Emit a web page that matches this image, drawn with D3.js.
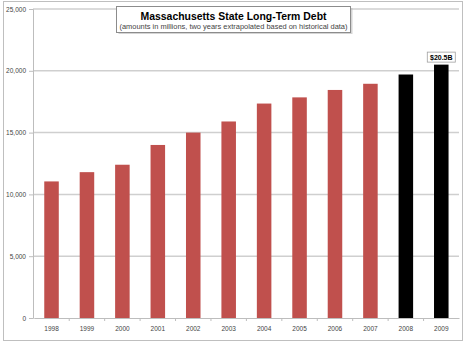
<!DOCTYPE html>
<html><head><meta charset="utf-8">
<script src="https://cdn.jsdelivr.net/npm/d3@7"></script>
<style>body{margin:0;background:#fff}svg{display:block}</style>
</head><body>
<svg id="c" width="471" height="346"></svg>
<script>
const years = ["1998","1999","2000","2001","2002","2003","2004","2005","2006","2007","2008","2009"];
const debt = [11050, 11800, 12400, 14000, 15000, 15900, 17350, 17850, 18450, 18950, 19700, 20500];
const projected = [false,false,false,false,false,false,false,false,false,false,true,true];
const yTicks = [0, 5000, 10000, 15000, 20000, 25000];
const titleText = "Massachusetts State Long-Term Debt";
const subtitleText = "(amounts in millions,  two years extrapolated based on historical data)";
const calloutText = "$20.5B";

const svg = d3.select("#c");
const font = "'Liberation Sans', Arial, sans-serif";

// outer frame
svg.append("rect").attr("x",3.5).attr("y",1.5).attr("width",459).attr("height",339)
  .attr("fill","#fff").attr("stroke","#bfbfbf").attr("stroke-width",1);

const x = d3.scaleBand().domain(years).range([33.8, 459]).paddingInner(0.59).paddingOuter(0.295);
const y = d3.scaleLinear().domain([0, 25000]).range([318, 9]);

// gridlines
svg.append("g").selectAll("line").data(yTicks.filter(d=>d>0)).join("line")
  .attr("x1",33).attr("x2",459).attr("y1",d=>y(d)).attr("y2",d=>y(d))
  .attr("stroke","#cfcfcf").attr("stroke-width",1.5);

// y axis
const yAxis = d3.axisLeft(y).tickValues(yTicks).tickFormat(d3.format(",")).tickSize(4).tickPadding(3);
const gy = svg.append("g").attr("transform","translate(33,0)").call(yAxis);
gy.select(".domain").attr("stroke","#bdbdbd");
gy.selectAll(".tick line").attr("stroke","#bdbdbd");
gy.selectAll("text").attr("font-family",font).attr("font-size",6.5).attr("fill","#444");

// x axis
const xAxis = d3.axisBottom(x).tickSize(0).tickPadding(8);
const gx = svg.append("g").attr("transform","translate(0,318)").call(xAxis);
gx.select(".domain").attr("stroke","#bdbdbd");
gx.selectAll("text").attr("font-family",font).attr("font-size",6.5).attr("fill","#444");
// minor category separators
svg.append("g").selectAll("line").data(years.slice(1)).join("line")
  .attr("x1",d=>x(d)-x.step()*x.paddingInner()/2).attr("x2",d=>x(d)-x.step()*x.paddingInner()/2)
  .attr("y1",318).attr("y2",321).attr("stroke","#bdbdbd");

// bars
svg.append("g").selectAll("rect").data(years).join("rect")
  .attr("x",d=>x(d)).attr("width",x.bandwidth())
  .attr("y",(d,i)=>y(debt[i])).attr("height",(d,i)=>318-y(debt[i]))
  .attr("fill",(d,i)=>projected[i]?"#000000":"#c0504d");

// title box with shadow
const tb = svg.append("g");
tb.append("rect").attr("x",118.5).attr("y",8).attr("width",234).attr("height",26).attr("fill","#b8b8b8").attr("opacity",0.6);
tb.append("rect").attr("x",116.5).attr("y",6.5).attr("width",234).attr("height",26)
  .attr("fill","#fff").attr("stroke","#8c8c8c").attr("stroke-width",1);
tb.append("text").attr("x",233.5).attr("y",19.5).attr("text-anchor","middle")
  .attr("font-family",font).attr("font-weight","bold").attr("font-size",11.5).attr("fill","#000")
  .attr("textLength",186).attr("lengthAdjust","spacingAndGlyphs").text(titleText);
tb.append("text").attr("x",233.5).attr("y",28.5).attr("text-anchor","middle")
  .attr("font-family",font).attr("font-size",6.8).attr("fill","#444")
  .attr("textLength",228).attr("lengthAdjust","spacingAndGlyphs").text(subtitleText);

// callout
const last = years[years.length-1];
const cx = x(last) + x.bandwidth()/2;
const cy = y(debt[debt.length-1]);
svg.append("rect").attr("x",cx-14).attr("y",cy-12.5).attr("width",28).attr("height",10)
  .attr("fill","#fff").attr("stroke","#a0a0a0").attr("stroke-width",0.8);
svg.append("text").attr("x",cx).attr("y",cy-4.8).attr("text-anchor","middle")
  .attr("font-family",font).attr("font-weight","bold").attr("font-size",7).attr("fill","#000")
  .text(calloutText);
</script>
</body></html>
